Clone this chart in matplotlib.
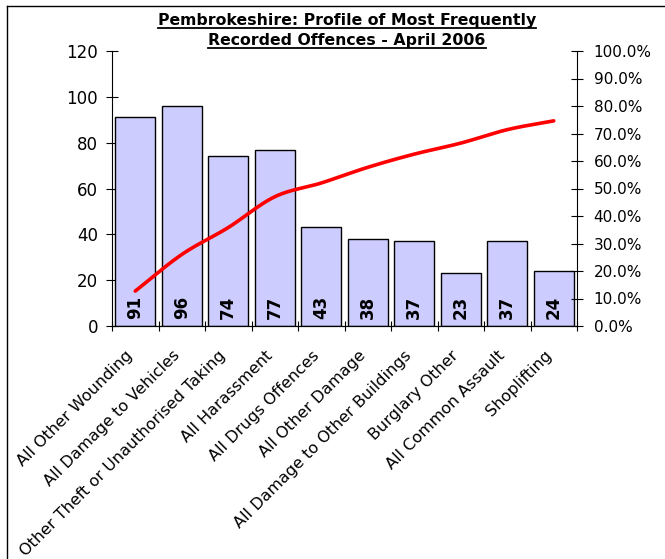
import numpy as np
import matplotlib.pyplot as plt
from matplotlib.lines import Line2D
from matplotlib.ticker import PercentFormatter, FixedLocator
from matplotlib.transforms import ScaledTranslation

# Dados do gráfico
categorias = ['All Other Wounding', 'All Damage to Vehicles',
              'Other Theft or Unauthorised Taking', 'All Harassment',
              'All Drugs Offences', 'All Other Damage',
              'All Damage to Other Buildings', 'Burglary Other',
              'All Common Assault', 'Shoplifting']
contagens = [91, 96, 74, 77, 43, 38, 37, 23, 37, 24]
cumulativo = [12.7, 26.0, 35.8, 47.0, 52.0, 57.7, 62.5, 66.5, 71.4, 74.6]

W, H = 665, 559
fig = plt.figure(figsize=(W / 100, H / 100), dpi=100)
ax = fig.add_axes([112 / W, 1 - 326 / H, (577 - 112) / W, (326 - 51) / H])

x = np.arange(len(categorias))
ax.bar(x, contagens, width=0.85, color='#CCCCFF', edgecolor='black', linewidth=1.0, zorder=2)
for xi, v in zip(x, contagens):
    ax.annotate(str(v), (xi, 0), xytext=(0, 5), textcoords='offset points',
                rotation=90, ha='center', va='bottom', fontsize=12,
                fontweight='bold', zorder=4)

ax.set_xlim(-0.5, len(categorias) - 0.5)
ax.set_ylim(0, 120)
ax.set_yticks(range(0, 121, 20))
ax.xaxis.set_major_locator(FixedLocator(np.arange(-0.5, len(categorias), 1.0)))
ax.set_xticklabels([])
ax.tick_params(axis='x', which='major', direction='inout', length=7)
ax.tick_params(axis='y', direction='inout', length=8, labelsize=12, pad=6)
ax.spines['top'].set_visible(False)
ax.spines['right'].set_visible(False)

# Rótulos das categorias (canto superior direito um pouco à esquerda do centro)
desloc = ScaledTranslation(-10 / 100, -22 / 100, fig.dpi_scale_trans)
for xi, nome in zip(x, categorias):
    ax.text(xi, 0, nome, transform=ax.get_xaxis_transform() + desloc,
            rotation=45, ha='right', va='top', rotation_mode='anchor', fontsize=11.5)

# Linha cumulativa suavizada (Catmull-Rom) no eixo da direita
ax2 = ax.twinx()
ax2.set_ylim(0, 100)
ax2.set_yticks(range(0, 101, 10))
ax2.yaxis.set_major_formatter(PercentFormatter(decimals=1))
ax2.tick_params(axis='y', direction='inout', length=8, labelsize=11, pad=8)
ax2.spines['top'].set_visible(False)
ax2.spines['left'].set_visible(False)

p = np.column_stack([x, cumulativo]).astype(float)
pts = np.vstack([p[0] - (p[1] - p[0]), p, p[-1] + (p[-1] - p[-2])])
curva = []
for i in range(1, len(pts) - 2):
    p0, p1, p2, p3 = pts[i - 1], pts[i], pts[i + 1], pts[i + 2]
    for t in np.linspace(0, 1, 20, endpoint=False):
        curva.append(0.5 * ((2 * p1) + (-p0 + p2) * t
                            + (2 * p0 - 5 * p1 + 4 * p2 - p3) * t ** 2
                            + (-p0 + 3 * p1 - 3 * p2 + p3) * t ** 3))
curva.append(p[-1])
curva = np.array(curva)
ax2.plot(curva[:, 0], curva[:, 1], color='red', linewidth=2.6,
         solid_capstyle='round', zorder=3)

# Título sublinhado
t1 = fig.text(347 / W, 1 - 21 / H,
              'Pembrokeshire: Profile of Most Frequently',
              ha='center', va='center', fontsize=11.3, fontweight='bold')
t2 = fig.text(347 / W, 1 - 41 / H,
              'Recorded Offences - April 2006',
              ha='center', va='center', fontsize=11.3, fontweight='bold')
fig.canvas.draw()
r = fig.canvas.get_renderer()
for t in (t1, t2):
    bb = t.get_window_extent(r).transformed(fig.transFigure.inverted())
    fig.add_artist(Line2D([bb.x0, bb.x1], [bb.y0 + 0.001, bb.y0 + 0.001],
                          color='black', linewidth=1.3, transform=fig.transFigure))

# Moldura
fig.add_artist(Line2D([7 / W, 7 / W], [0, 1 - 6 / H], color='black', linewidth=1.0,
                      transform=fig.transFigure))
fig.add_artist(Line2D([7 / W, 1], [1 - 6 / H, 1 - 6 / H], color='black', linewidth=1.0,
                      transform=fig.transFigure))

fig.savefig('out.png', dpi=100)
